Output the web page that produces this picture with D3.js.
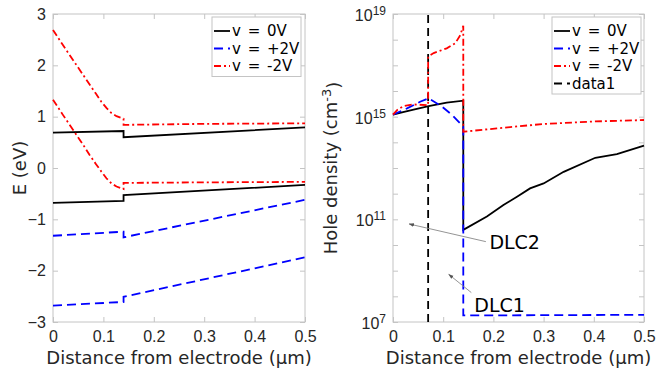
<!DOCTYPE html>
<html>
<head>
<meta charset="utf-8">
<script src="https://cdn.jsdelivr.net/npm/d3@7"></script>
<style>
  body { margin: 0; background: #fff; }
  svg { font-family: "DejaVu Sans", sans-serif; }
  .axis path, .axis line { stroke: #c4c4c4; }
  .axis text { fill: #262626; font-size: 16px; }
  .label { fill: #262626; font-size: 18px; }
  .legend text { fill: #000; font-size: 15px; word-spacing: 2px; }
</style>
</head>
<body>
<div id="chart"></div>
<script>
// ---- left panel: band energies (eV) ----
const eTicksX = [0, 0.1, 0.2, 0.3, 0.4, 0.5];
const eTicksY = [-3, -2, -1, 0, 1, 2, 3];

const ecZeroX = [0, 0.14, 0.14, 0.5];
const ecZeroE = [0.69, 0.72, 0.60, 0.79];
const evZeroX = [0, 0.14, 0.14, 0.5];
const evZeroE = [-0.68, -0.64, -0.53, -0.33];

const ecPlusX = [0, 0.14, 0.14, 0.5];
const ecPlusE = [-1.32, -1.24, -1.35, -0.62];
const evPlusX = [0, 0.14, 0.14, 0.5];
const evPlusE = [-2.68, -2.61, -2.51, -1.74];

const ecMinusX = [0, 0.02, 0.04, 0.06, 0.073, 0.085, 0.096, 0.106, 0.116, 0.126, 0.134, 0.14, 0.14, 0.3, 0.5];
const ecMinusE = [2.69, 2.39, 2.10, 1.81, 1.62, 1.45, 1.29, 1.17, 1.07, 1.01, 0.98, 0.96, 0.84, 0.86, 0.87];
const evMinusX = [0, 0.02, 0.04, 0.06, 0.073, 0.085, 0.096, 0.106, 0.116, 0.126, 0.134, 0.14, 0.14, 0.3, 0.5];
const evMinusE = [1.33, 1.03, 0.74, 0.45, 0.25, 0.08, -0.07, -0.20, -0.30, -0.36, -0.39, -0.41, -0.29, -0.28, -0.27];

// ---- right panel: hole density (cm^-3) ----
const pTicksY = [1e7, 1e8, 1e9, 1e10, 1e11, 1e12, 1e13, 1e14, 1e15, 1e16, 1e17, 1e18, 1e19];
const pLabelExp = [7, 11, 15, 19];

const pZeroX = [0, 0.02, 0.041, 0.071, 0.107, 0.14, 0.14, 0.187, 0.22, 0.247, 0.273, 0.30, 0.34, 0.403, 0.446, 0.5];
const pZeroP = [1.2e15, 1.5e15, 1.9e15, 2.6e15, 3.5e15, 4.2e15, 3.9e10, 1.3e11, 3.6e11, 7.6e11, 1.6e12, 2.5e12, 7.1e12, 2.5e13, 3.5e13, 7.4e13];

const pPlusX = [0, 0.028, 0.054, 0.071, 0.097, 0.117, 0.14, 0.14, 0.5];
const pPlusP = [1.2e15, 2.1e15, 3.8e15, 5.2e15, 2.5e15, 1.2e15, 4.1e14, 1.8e7, 1.9e7];

const pMinusX = [0, 0.008, 0.021, 0.041, 0.07, 0.07, 0.081, 0.107, 0.124, 0.134, 0.14, 0.14, 0.207, 0.3, 0.4, 0.5];
const pMinusP = [1.2e15, 1.8e15, 2.6e15, 3.0e15, 2.8e15, 2.2e17, 3.0e17, 4.6e17, 7.2e17, 1.5e18, 3.5e18, 2.6e14, 3.5e14, 5.2e14, 6.5e14, 7.4e14];

const data1X = [0.07, 0.07];
const data1P = [1e7, 1e19];

// annotations: [label, textX, textP, tailX, tailP, headX, headP]
const notes = [
  ['DLC2', 0.192, 6.8e9, 0.185, 1.35e10, 0.032, 6.6e10],
  ['DLC1', 0.162, 2.5e7, 0.156, 1.4e8, 0.111, 7.2e8],
];

const styles = {
  zero: { color: '#000000', dash: null, name: 'v = 0V' },
  plus: { color: '#0000ff', dash: '9,5', name: 'v = +2V' },
  minus: { color: '#ff0000', dash: '7,3,2,3', name: 'v = -2V' },
  data1: { color: '#000000', dash: '8,5', name: 'data1' },
};

const W = 657, H = 374;
const svg = d3.select('#chart').append('svg').attr('width', W).attr('height', H);

svg.append('defs').append('marker')
  .attr('id', 'arr').attr('viewBox', '0 0 10 10').attr('refX', 9).attr('refY', 5)
  .attr('markerWidth', 6).attr('markerHeight', 6).attr('orient', 'auto')
  .append('path').attr('d', 'M0,1.5L10,5L0,8.5z').attr('fill', '#555');

function zip(xs, ys) { return xs.map((x, i) => [x, ys[i]]); }

function panel(left, right, yScale, yTicks, yFmt) {
  const top = 14, bottom = 322;
  const x = d3.scaleLinear().domain([0, 0.5]).range([left, right]);
  const y = yScale.range([bottom, top]);
  const g = svg.append('g');

  g.append('rect').attr('x', left).attr('y', top).attr('width', right - left).attr('height', bottom - top)
    .attr('fill', '#fff').attr('stroke', '#c4c4c4');

  g.append('g').attr('class', 'axis').attr('transform', `translate(0,${bottom})`)
    .call(d3.axisBottom(x).tickValues(eTicksX).tickSize(-5).tickPadding(9).tickFormat(d3.format('')))
    .call((a) => a.select('.domain').remove());
  g.append('g').attr('class', 'axis').attr('transform', `translate(0,${top})`)
    .call(d3.axisTop(x).tickValues(eTicksX).tickSize(-5).tickFormat(''))
    .call((a) => a.select('.domain').remove());
  const ya = g.append('g').attr('class', 'axis').attr('transform', `translate(${left},0)`)
    .call(d3.axisLeft(y).tickValues(yTicks).tickSize(-5).tickPadding(7).tickFormat(yFmt))
    .call((a) => a.select('.domain').remove());
  g.append('g').attr('class', 'axis').attr('transform', `translate(${right},0)`)
    .call(d3.axisRight(y).tickValues(yTicks).tickSize(-5).tickFormat(''))
    .call((a) => a.select('.domain').remove());
  g.selectAll('.axis .tick text').attr('font-family', null).attr('font-size', null);

  const plot = g.append('g');
  return { x, y, g, plot, ya, left, right, top, bottom };
}

function drawLine(p, xs, ys, st) {
  p.plot.append('path')
    .datum(zip(xs, ys))
    .attr('fill', 'none')
    .attr('stroke', st.color)
    .attr('stroke-width', 1.8)
    .attr('stroke-dasharray', st.dash)
    .attr('d', d3.line().x((d) => p.x(d[0])).y((d) => p.y(d[1])));
}

function legend(x0, y0, w, keys) {
  const rowH = 17.5;
  const lg = svg.append('g').attr('class', 'legend');
  lg.append('rect').attr('x', x0).attr('y', y0).attr('width', w).attr('height', keys.length * rowH + 7)
    .attr('fill', '#fff').attr('stroke', '#c4c4c4');
  keys.forEach((k, i) => {
    const st = styles[k];
    const cy = y0 + 14 + i * rowH;
    lg.append('line').attr('x1', x0 + 2).attr('x2', x0 + 18).attr('y1', cy).attr('y2', cy)
      .attr('stroke', st.color).attr('stroke-width', 1.8).attr('stroke-dasharray', st.dash);
    lg.append('text').attr('x', x0 + 20).attr('y', cy).attr('dy', '0.36em').text(st.name);
  });
}

// ---- left panel ----
const L = panel(53, 305, d3.scaleLinear().domain([-3, 3]), eTicksY, d3.format(''));
drawLine(L, ecZeroX, ecZeroE, styles.zero);
drawLine(L, evZeroX, evZeroE, styles.zero);
drawLine(L, ecPlusX, ecPlusE, styles.plus);
drawLine(L, evPlusX, evPlusE, styles.plus);
drawLine(L, ecMinusX, ecMinusE, styles.minus);
drawLine(L, evMinusX, evMinusE, styles.minus);

svg.append('text').attr('class', 'label').attr('text-anchor', 'middle')
  .attr('transform', `translate(26,${(L.top + L.bottom) / 2}) rotate(-90)`).text('E (eV)');
svg.append('text').attr('class', 'label').attr('text-anchor', 'middle')
  .attr('x', (L.left + L.right) / 2).attr('y', 364).text('Distance from electrode (μm)');
legend(212, 17, 89, ['zero', 'plus', 'minus']);

// ---- right panel ----
const R = panel(393, 644, d3.scaleLog().domain([1e7, 1e19]), pTicksY, () => '');
R.ya.selectAll('.tick').each(function (d) {
  const e = Math.round(Math.log10(d));
  if (!pLabelExp.includes(e)) return;
  const t = d3.select(this).select('text');
  t.attr('dy', '0.4em');
  t.append('tspan').text('10');
  t.append('tspan').attr('dy', '-0.5em').attr('font-size', '12px').text(e);
});
drawLine(R, data1X, data1P, styles.data1);
drawLine(R, pZeroX, pZeroP, styles.zero);
drawLine(R, pPlusX, pPlusP, styles.plus);
drawLine(R, pMinusX, pMinusP, styles.minus);

notes.forEach(([label, tx, tp, ax, ap, hx, hp]) => {
  R.plot.append('line')
    .attr('x1', R.x(ax)).attr('y1', R.y(ap)).attr('x2', R.x(hx)).attr('y2', R.y(hp))
    .attr('stroke', '#888').attr('stroke-width', 0.9).attr('marker-end', 'url(#arr)');
  R.plot.append('text').attr('x', R.x(tx)).attr('y', R.y(tp))
    .attr('font-size', '19px').attr('fill', '#000').text(label);
});

const yl = svg.append('text').attr('class', 'label').attr('text-anchor', 'middle')
  .attr('transform', `translate(337,${(R.top + R.bottom) / 2}) rotate(-90)`);
yl.append('tspan').text('Hole density (cm');
yl.append('tspan').attr('dy', '-0.5em').attr('font-size', '13px').text('-3');
yl.append('tspan').attr('dy', '0.5em').text(')');
svg.append('text').attr('class', 'label').attr('text-anchor', 'middle')
  .attr('x', (R.left + R.right) / 2).attr('y', 364).text('Distance from electrode (μm)');
legend(552, 17, 89, ['zero', 'plus', 'minus', 'data1']);
</script>
</body>
</html>
